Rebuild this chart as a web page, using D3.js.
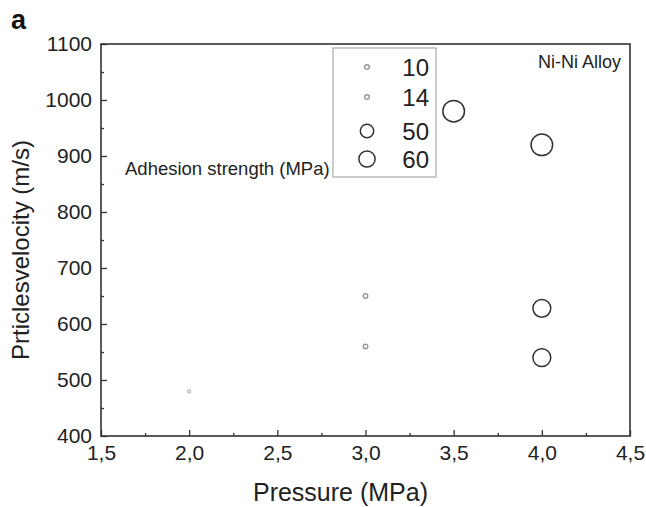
<!DOCTYPE html>
<html>
<head>
<meta charset="utf-8">
<script src="https://cdn.jsdelivr.net/npm/d3@7"></script>
<style>
  body { margin: 0; background: #fff; }
  svg { font-family: "Liberation Sans", Arial, sans-serif; }
</style>
</head>
<body>
<div id="chart"></div>
<script>
(function () {
  const pressure = [2.0, 3.0, 3.0, 3.5, 4.0, 4.0, 4.0];
  const velocity = [480, 560, 650, 980, 920, 628, 540];
  const strength = [10, 14, 14, 60, 60, 50, 50];
  const legendValues = [10, 14, 50, 60];
  const xTicks = ["1,5", "2,0", "2,5", "3,0", "3,5", "4,0", "4,5"];

  const points = pressure.map((p, i) => ({ p, v: velocity[i], s: strength[i] }));

  const W = 646, H = 507;
  const margin = { top: 44, right: 16, bottom: 71, left: 101 };
  const w = W - margin.left - margin.right, h = H - margin.top - margin.bottom;

  const svg = d3.select("#chart").append("svg")
    .attr("width", W)
    .attr("height", H);

  const plot = svg.append("g")
    .attr("transform", `translate(${margin.left},${margin.top})`);

  const x = d3.scaleLinear().domain([1.5, 4.5]).range([0, w]);
  const y = d3.scaleLinear().domain([400, 1100]).range([h, 0]);
  const r = d3.scaleLinear().domain([10, 60]).range([1.5, 10.8]);
  const stroke = d => d <= 10 ? "#c4c4c4" : d <= 14 ? "#9a9a9a" : "#333";

  // minor ticks
  plot.append("g")
    .attr("transform", `translate(0,${h})`)
    .call(d3.axisBottom(x).tickValues(d3.range(1.75, 4.5, 0.5)).tickSize(-3).tickFormat(""))
    .call(g => g.select(".domain").remove());
  plot.append("g")
    .call(d3.axisLeft(y).tickValues(d3.range(450, 1100, 100)).tickSize(-3).tickFormat(""))
    .call(g => g.select(".domain").remove());

  // major ticks + labels
  plot.append("g")
    .attr("transform", `translate(0,${h})`)
    .call(d3.axisBottom(x).tickValues(d3.range(1.5, 4.51, 0.5)).tickSize(-6).tickPadding(9)
      .tickFormat((d, i) => xTicks[i]))
    .call(g => g.select(".domain").remove())
    .call(g => g.selectAll("text").attr("font-size", 21).attr("fill", "#222"));
  plot.append("g")
    .call(d3.axisLeft(y).tickValues(d3.range(400, 1101, 100)).tickSize(-6).tickPadding(9)
      .tickFormat(d3.format("d")))
    .call(g => g.select(".domain").remove())
    .call(g => g.selectAll("text").attr("font-size", 21).attr("fill", "#222"));

  plot.selectAll(".tick line").attr("stroke", "#333").attr("stroke-width", 1.3);

  // frame
  plot.append("rect")
    .attr("width", w).attr("height", h)
    .attr("fill", "none").attr("stroke", "#333").attr("stroke-width", 1.6);

  // points
  plot.selectAll(".pt")
    .data(points)
    .join("circle")
    .attr("cx", d => x(d.p))
    .attr("cy", d => y(d.v))
    .attr("r", d => r(d.s))
    .attr("fill", "none")
    .attr("stroke", d => stroke(d.s))
    .attr("stroke-width", 1.5);

  // legend
  const lg = svg.append("g").attr("transform", "translate(333,48)");
  lg.append("rect")
    .attr("width", 103).attr("height", 129)
    .attr("fill", "#fff").attr("stroke", "#aaa").attr("stroke-width", 1.2);
  const rows = [19, 49, 83, 111];
  legendValues.forEach((v, i) => {
    lg.append("circle")
      .attr("cx", 34).attr("cy", rows[i])
      .attr("r", v <= 14 ? 2.3 : r(v) * 0.75)
      .attr("fill", "none").attr("stroke", v <= 14 ? "#9a9a9a" : "#333")
      .attr("stroke-width", 1.5);
    lg.append("text")
      .attr("x", 96).attr("y", rows[i] + 9)
      .attr("text-anchor", "end")
      .attr("font-size", 24).attr("fill", "#222")
      .text(v);
  });

  svg.append("text")
    .attr("x", 621).attr("y", 68)
    .attr("text-anchor", "end")
    .attr("font-size", 18).attr("fill", "#222")
    .text("Ni-Ni Alloy");

  svg.append("text")
    .attr("x", 125).attr("y", 175)
    .attr("font-size", 18.5).attr("fill", "#222")
    .text("Adhesion strength (MPa)");

  svg.append("text")
    .attr("x", margin.left + w / 2 - 25).attr("y", 501)
    .attr("text-anchor", "middle")
    .attr("font-size", 25).attr("fill", "#222")
    .text("Pressure (MPa)");

  svg.append("text")
    .attr("transform", `translate(29,250) rotate(-90)`)
    .attr("text-anchor", "middle")
    .attr("font-size", 24).attr("fill", "#222")
    .text("Prticlesvelocity (m/s)");

  svg.append("text")
    .attr("x", 11).attr("y", 29)
    .attr("font-size", 27).attr("font-weight", "700").attr("fill", "#111")
    .text("a");
})();
</script>
</body>
</html>
